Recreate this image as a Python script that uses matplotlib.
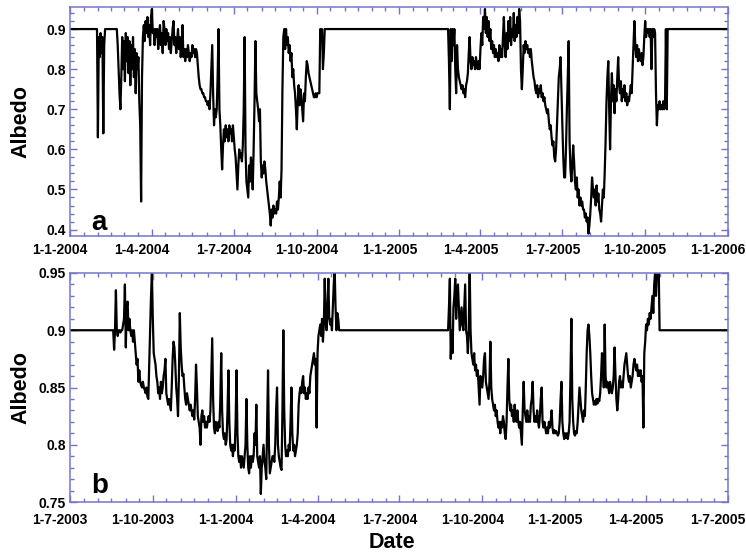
import numpy as np
import pandas as pd
import matplotlib
matplotlib.use('Agg')
import matplotlib.pyplot as plt
import matplotlib.dates as mdates
from matplotlib.ticker import MultipleLocator, FuncFormatter
from matplotlib.transforms import ScaledTranslation

plt.rcParams['font.family'] = ['Liberation Sans', 'DejaVu Sans']

# albedo outside the melt/snow-change periods sits at the background value
base_albedo = 0.9

# ---- panel a: 1-1-2004 .. 1-1-2006, daily values per active period ----
a_range = ('2004-01-01', '2006-01-01')
a_seg_starts = ['2004-01-31', '2004-02-22', '2005-02-24']
a_seg1 = [0.90, 0.63, 0.88, 0.83, 0.89, 0.84, 0.88, 0.64, 0.86, 0.90]
a_seg2 = [
    0.90, 0.86, 0.80, 0.74, 0.70, 0.78, 0.88, 0.80, 0.87, 0.77,
    0.89, 0.82, 0.88, 0.79, 0.87, 0.76, 0.86, 0.80, 0.88, 0.78,
    0.85, 0.74, 0.84, 0.80, 0.83, 0.72, 0.66, 0.47, 0.78, 0.88,
    0.91, 0.87, 0.92, 0.89, 0.93, 0.88, 0.91, 0.86, 0.93, 0.95,
    0.89, 0.90, 0.86, 0.90, 0.88, 0.90, 0.85, 0.89, 0.91, 0.86,
    0.89, 0.84, 0.92, 0.90, 0.86, 0.90, 0.87, 0.89, 0.85, 0.88,
    0.84, 0.87, 0.90, 0.92, 0.86, 0.88, 0.84, 0.87, 0.90, 0.85,
    0.88, 0.83, 0.86, 0.91, 0.83, 0.85, 0.82, 0.85, 0.83, 0.86,
    0.84, 0.82, 0.84, 0.83, 0.86, 0.84, 0.85, 0.83, 0.85, 0.84,
    0.81, 0.78, 0.76, 0.75, 0.75, 0.74, 0.74, 0.73, 0.73, 0.72,
    0.72, 0.71, 0.72, 0.70, 0.74, 0.80, 0.86, 0.74, 0.66, 0.70,
    0.68, 0.70, 0.78, 0.90, 0.70, 0.66, 0.60, 0.55, 0.61, 0.65,
    0.62, 0.66, 0.63, 0.65, 0.62, 0.66, 0.64, 0.65, 0.62, 0.66,
    0.63, 0.60, 0.58, 0.54, 0.50, 0.56, 0.60, 0.58, 0.59, 0.57,
    0.61, 0.70, 0.88, 0.60, 0.52, 0.50, 0.48, 0.56, 0.52, 0.58,
    0.55, 0.50, 0.60, 0.72, 0.87, 0.74, 0.72, 0.70, 0.67, 0.70,
    0.57, 0.53, 0.56, 0.54, 0.57, 0.55, 0.52, 0.50, 0.48, 0.46,
    0.44, 0.41, 0.45, 0.43, 0.46, 0.44, 0.45, 0.44, 0.47, 0.45,
    0.48, 0.52, 0.48, 0.55, 0.75, 0.88, 0.90, 0.85, 0.90, 0.86,
    0.88, 0.84, 0.86, 0.82, 0.84, 0.78, 0.80, 0.76, 0.74, 0.70,
    0.65, 0.72, 0.76, 0.71, 0.75, 0.73, 0.70, 0.67, 0.74, 0.72,
    0.78, 0.82, 0.81, 0.79, 0.78, 0.77, 0.76, 0.75, 0.74, 0.73,
    0.73, 0.74, 0.73, 0.74, 0.74, 0.74, 0.90, 0.88, 0.90, 0.80, 0.84, 0.90,
]
a_seg3 = [
    0.90, 0.82, 0.70, 0.90, 0.82, 0.90, 0.86, 0.90, 0.80, 0.74,
    0.86, 0.80, 0.78, 0.77, 0.76, 0.75, 0.76, 0.74, 0.75, 0.73,
    0.76, 0.77, 0.79, 0.84, 0.88, 0.82, 0.80, 0.83, 0.81, 0.82,
    0.80, 0.83, 0.81, 0.80, 0.82, 0.80, 0.85, 0.89, 0.86, 0.93,
    0.90, 0.95, 0.89, 0.93, 0.88, 0.92, 0.87, 0.90, 0.85, 0.87,
    0.84, 0.86, 0.83, 0.85, 0.83, 0.84, 0.82, 0.86, 0.83, 0.85,
    0.83, 0.88, 0.93, 0.86, 0.83, 0.89, 0.85, 0.92, 0.87, 0.93,
    0.86, 0.90, 0.88, 0.94, 0.87, 0.91, 0.88, 0.93, 0.89, 0.95,
    0.92, 0.80, 0.75, 0.80, 0.86, 0.84, 0.87, 0.85, 0.86, 0.84,
    0.85, 0.83, 0.85, 0.82, 0.80, 0.78, 0.77, 0.75, 0.74, 0.76,
    0.73, 0.75, 0.74, 0.76, 0.73, 0.74, 0.72, 0.73, 0.71, 0.70,
    0.69, 0.70, 0.67, 0.65, 0.66, 0.63, 0.61, 0.62, 0.58, 0.57,
    0.60, 0.66, 0.72, 0.78, 0.80, 0.83, 0.74, 0.66, 0.58, 0.53,
    0.53, 0.60, 0.70, 0.78, 0.87, 0.62, 0.55, 0.52, 0.56, 0.61,
    0.57, 0.52, 0.50, 0.53, 0.48, 0.50, 0.46, 0.48, 0.46, 0.47,
    0.45, 0.45, 0.43, 0.44, 0.42, 0.43, 0.39, 0.41, 0.44, 0.48,
    0.53, 0.50, 0.48, 0.50, 0.46, 0.51, 0.47, 0.49, 0.45, 0.44,
    0.42, 0.46, 0.50, 0.48, 0.54, 0.62, 0.72, 0.78, 0.82, 0.70,
    0.60, 0.72, 0.79, 0.72, 0.76, 0.69, 0.75, 0.72, 0.78, 0.83,
    0.76, 0.74, 0.77, 0.72, 0.75, 0.73, 0.76, 0.72, 0.74, 0.71,
    0.73, 0.72, 0.74, 0.76, 0.74, 0.80, 0.86, 0.92, 0.86, 0.83,
    0.86, 0.82, 0.85, 0.83, 0.82, 0.84, 0.81, 0.83, 0.88, 0.92,
    0.88, 0.90, 0.89, 0.90, 0.88, 0.90, 0.80, 0.90, 0.88, 0.90,
    0.89, 0.74, 0.66, 0.71, 0.70, 0.72, 0.70, 0.71, 0.70, 0.72,
    0.70, 0.71, 0.90, 0.70, 0.90,
]

# ---- panel b: 1-7-2003 .. 1-7-2005 ----
b_range = ('2003-07-01', '2005-07-01')
b_seg_starts = ['2003-08-18', '2004-08-24']
b_seg1 = [
    0.900, 0.883, 0.900, 0.935, 0.900, 0.895, 0.900, 0.900, 0.898, 0.900,
    0.900, 0.905, 0.910, 0.940, 0.885, 0.920, 0.925, 0.900, 0.910, 0.900,
    0.895, 0.900, 0.890, 0.900, 0.890, 0.880, 0.870, 0.875, 0.855, 0.865,
    0.855, 0.852, 0.850, 0.855, 0.850, 0.848, 0.845, 0.850, 0.842, 0.840,
    0.870, 0.900, 0.930, 0.950, 0.910, 0.880, 0.875, 0.870, 0.860, 0.855,
    0.845, 0.850, 0.840, 0.855, 0.845, 0.850, 0.860, 0.865, 0.875, 0.845,
    0.840, 0.835, 0.840, 0.835, 0.830, 0.850, 0.875, 0.890, 0.885, 0.870,
    0.850, 0.840, 0.825, 0.860, 0.915, 0.885, 0.870, 0.860, 0.862, 0.850,
    0.840, 0.835, 0.845, 0.840, 0.835, 0.830, 0.835, 0.830, 0.825, 0.830,
    0.822, 0.840, 0.870, 0.850, 0.825, 0.820, 0.815, 0.800, 0.825, 0.830,
    0.820, 0.825, 0.815, 0.820, 0.815, 0.820, 0.825, 0.820, 0.830, 0.860,
    0.893, 0.840, 0.815, 0.810, 0.820, 0.815, 0.812, 0.820, 0.815, 0.840,
    0.880, 0.830, 0.810, 0.805, 0.810, 0.800, 0.805, 0.830, 0.865, 0.820,
    0.800, 0.795, 0.800, 0.790, 0.800, 0.795, 0.820, 0.865, 0.810, 0.790,
    0.785, 0.790, 0.780, 0.790, 0.785, 0.780, 0.790, 0.800, 0.840, 0.800,
    0.780, 0.775, 0.790, 0.780, 0.790, 0.785, 0.790, 0.810, 0.800, 0.835,
    0.790, 0.785, 0.780, 0.790, 0.757, 0.780, 0.790, 0.800, 0.785, 0.780,
    0.770, 0.820, 0.865, 0.800, 0.775, 0.780, 0.785, 0.790, 0.790, 0.785,
    0.800, 0.830, 0.850, 0.800, 0.790, 0.785, 0.780, 0.778, 0.830, 0.900,
    0.830, 0.800, 0.790, 0.795, 0.790, 0.800, 0.795, 0.820, 0.850, 0.810,
    0.795, 0.800, 0.790, 0.795, 0.800, 0.810, 0.835, 0.845, 0.850, 0.845,
    0.855, 0.860, 0.845, 0.850, 0.840, 0.845, 0.840, 0.850, 0.845, 0.860,
    0.865, 0.870, 0.875, 0.880, 0.870, 0.875, 0.815, 0.880, 0.895, 0.900,
    0.905, 0.895, 0.910, 0.890, 0.905, 0.945, 0.910, 0.900, 0.920, 0.945,
    0.910, 0.905, 0.910, 0.900, 0.920, 0.940, 0.955, 0.920, 0.900, 0.915,
    0.910, 0.900, 0.900,
]
b_seg2 = [
    0.900, 0.920, 0.945, 0.875, 0.900, 0.880, 0.920, 0.930, 0.945, 0.910,
    0.935, 0.940, 0.920, 0.900, 0.910, 0.920, 0.905, 0.900, 0.920, 0.940,
    0.900, 0.895, 0.880, 0.900, 0.955, 0.900, 0.880, 0.875, 0.870, 0.880,
    0.865, 0.870, 0.860, 0.865, 0.850, 0.835, 0.860, 0.855, 0.850, 0.860,
    0.875, 0.880, 0.855, 0.850, 0.845, 0.840, 0.855, 0.890, 0.850, 0.840,
    0.835, 0.830, 0.835, 0.825, 0.830, 0.820, 0.815, 0.820, 0.810, 0.820,
    0.815, 0.825, 0.820, 0.810, 0.805, 0.820, 0.850, 0.875, 0.840, 0.830,
    0.835, 0.825, 0.830, 0.820, 0.835, 0.825, 0.820, 0.830, 0.820, 0.815,
    0.820, 0.810, 0.800, 0.830, 0.855, 0.830, 0.825, 0.820, 0.830, 0.820,
    0.825, 0.820, 0.835, 0.840, 0.855, 0.830, 0.820, 0.825, 0.820, 0.830,
    0.820, 0.815, 0.825, 0.840, 0.850, 0.820, 0.815, 0.820, 0.815, 0.810,
    0.815, 0.810, 0.820, 0.815, 0.820, 0.830, 0.815, 0.810, 0.813, 0.810,
    0.812, 0.810, 0.808, 0.810, 0.820, 0.840, 0.855, 0.820, 0.810, 0.805,
    0.810, 0.806, 0.810, 0.805, 0.810, 0.820, 0.860, 0.910, 0.840, 0.820,
    0.810, 0.808, 0.812, 0.810, 0.820, 0.835, 0.850, 0.840, 0.830, 0.825,
    0.820, 0.830, 0.825, 0.850, 0.880, 0.900, 0.905, 0.895, 0.880, 0.860,
    0.845, 0.840, 0.835, 0.838, 0.835, 0.840, 0.836, 0.840, 0.838, 0.845,
    0.860, 0.880, 0.870, 0.850, 0.905, 0.860, 0.850, 0.855, 0.850, 0.845,
    0.855, 0.850, 0.845, 0.850, 0.860, 0.885, 0.860, 0.840, 0.830, 0.840,
    0.855, 0.860, 0.850, 0.855, 0.850, 0.860, 0.870, 0.875, 0.880, 0.870,
    0.860, 0.855, 0.860, 0.850, 0.855, 0.860, 0.870, 0.875, 0.870, 0.865,
    0.870, 0.860, 0.865, 0.860, 0.865, 0.855, 0.860, 0.815, 0.880, 0.890,
    0.905, 0.900, 0.910, 0.905, 0.915, 0.910, 0.920, 0.930, 0.915, 0.940,
    0.950, 0.930, 0.950, 0.945, 0.955, 0.900,
]

axis_blue = '#7474cc'


def daily_series(date_range, starts, segments):
    idx = pd.date_range(date_range[0], date_range[1], freq='D')
    s = pd.Series(base_albedo, index=idx)
    for start, vals in zip(starts, segments):
        i0 = idx.get_loc(pd.Timestamp(start))
        s.iloc[i0:i0 + len(vals)] = vals
    return s


def dmy(x, pos=None):
    d = mdates.num2date(x)
    return f'{d.day}-{d.month}-{d.year}'


def style_axes(ax, fig, date_range, ylim, ymajor, yminor, yfmt, xpad):
    ax.set_xlim(pd.Timestamp(date_range[0]), pd.Timestamp(date_range[1]))
    ax.set_ylim(*ylim)
    ax.xaxis.set_major_locator(mdates.MonthLocator(bymonth=[1, 4, 7, 10]))
    ax.xaxis.set_minor_locator(mdates.DayLocator(bymonthday=[1, 16]))
    ax.xaxis.set_major_formatter(FuncFormatter(dmy))
    ax.yaxis.set_major_locator(MultipleLocator(ymajor))
    ax.yaxis.set_minor_locator(MultipleLocator(yminor))
    ax.yaxis.set_major_formatter(FuncFormatter(yfmt))
    for sp in ax.spines.values():
        sp.set_color(axis_blue)
        sp.set_linewidth(1.1)
    ax.tick_params(which='both', direction='in', top=True, right=True,
                   color=axis_blue, width=1)
    ax.tick_params(which='major', length=5)
    ax.tick_params(which='minor', length=3)
    ax.tick_params(axis='x', pad=xpad)
    ax.tick_params(axis='y', pad=3)
    for lab in ax.get_xticklabels() + ax.get_yticklabels():
        lab.set_fontsize(10)
        lab.set_fontweight('bold')
    # date labels sit a little to the left of their ticks
    shift = ScaledTranslation(-10 / 100, 0, fig.dpi_scale_trans)
    for lab in ax.get_xticklabels():
        lab.set_transform(lab.get_transform() + shift)


fig = plt.figure(figsize=(7.46, 5.54), dpi=100)
W, H = 746, 554
ax_a = fig.add_axes([70 / W, 1 - 236 / H, 658 / W, 229 / H])
ax_b = fig.add_axes([70 / W, 1 - 502 / H, 658 / W, 229 / H])

series_a = daily_series(a_range, a_seg_starts, [a_seg1, a_seg2, a_seg3])
series_b = daily_series(b_range, b_seg_starts, [b_seg1, b_seg2])

ax_a.plot(series_a.index, series_a.values, color='black', lw=1.6)
ax_b.plot(series_b.index, series_b.values, color='black', lw=1.6)

style_axes(ax_a, fig, a_range, (0.384, 0.955), 0.1, 0.02,
           lambda v, p: f'{v:.1f}', 5)
style_axes(ax_b, fig, b_range, (0.75, 0.95), 0.05, 0.01,
           lambda v, p: f'{v:g}', 8)

ax_a.text(0.033, 0.026, 'a', transform=ax_a.transAxes, fontsize=20,
          fontweight='bold', va='baseline')
ax_b.text(0.033, 0.039, 'b', transform=ax_b.transAxes, fontsize=20,
          fontweight='bold', va='baseline')

for yc in (1 - 121.5 / H, 1 - 388 / H):
    fig.text(21 / W, yc, 'Albedo', rotation=90, ha='center', va='center',
             fontsize=15.5, fontweight='bold')
fig.text(392 / W, 1 - 542 / H, 'Date', ha='center', va='center',
         fontsize=15.5, fontweight='bold')

fig.savefig('out.png', dpi=100)
